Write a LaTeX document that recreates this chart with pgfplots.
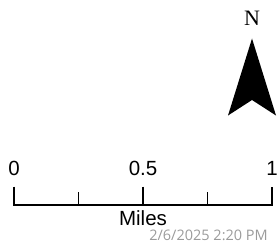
\documentclass[border=0pt]{standalone}
\usepackage{fontspec}
\setmainfont{Liberation Sans}
\newfontfamily\nfont{Liberation Serif}
\newfontfamily\datefont{Open Sans}
\usepackage{pgfplots}
\pgfplotsset{compat=1.18}
\definecolor{dategray}{RGB}{155,155,155}
\begin{document}
\begin{tikzpicture}
\begin{axis}[width=278pt,height=243pt,scale only axis,
  xmin=-0.05426,xmax=1.02326,ymin=0,ymax=243,y dir=reverse,
  hide axis,clip=false]
% scale bar (miles)
\addplot[black,line width=1.7pt,line join=miter] coordinates {(0,186.5) (0,205) (1,205) (1,186.5)};
\addplot[black,line width=1.7pt] coordinates {(0.5,186.5) (0.5,205)};
\addplot[black,line width=1.7pt] coordinates {(0.25,192) (0.25,205)};
\addplot[black,line width=1.7pt] coordinates {(0.75,192) (0.75,205)};
% north arrow
\addplot[fill=black,draw=none] coordinates {(0.9225,38.5) (1.0155,115.5) (0.9225,100) (0.8295,115.5)} -- cycle;
\node[inner sep=0,anchor=base,font=\fontsize{20.5}{20.5}\selectfont] at (axis cs:0,175) {0};
\node[inner sep=0,anchor=base,font=\fontsize{20.5}{20.5}\selectfont] at (axis cs:0.5,175) {0.5};
\node[inner sep=0,anchor=base,font=\fontsize{20.5}{20.5}\selectfont] at (axis cs:1,175) {1};
\node[inner sep=0,anchor=base,font=\fontsize{20.5}{20.5}\selectfont] at (axis cs:0.5,225.5) {Miles};
\node[inner sep=0,anchor=base,font=\nfont\fontsize{22}{22}\selectfont] at (axis cs:0.9225,25.5) {N};
\node[inner sep=0,anchor=base east,text=dategray,font=\datefont\fontsize{14.5}{15}\selectfont] at (axis cs:0.9845,240.5) {2/6/2025 2:20 PM};
\end{axis}
\pgfresetboundingbox
\path (current axis.south west) rectangle (current axis.north east);
\end{tikzpicture}
\end{document}
